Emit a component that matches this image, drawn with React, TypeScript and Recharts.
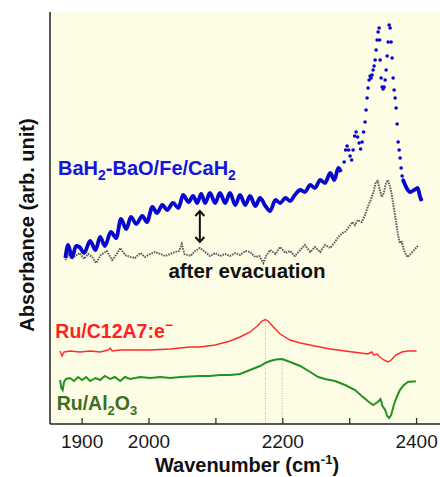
import { LineChart, Line, XAxis, YAxis, CartesianGrid, ReferenceLine, ReferenceDot } from "recharts"

const X_DOMAIN = [1852, 2435]
const X_TICKS = [1900, 2000, 2100, 2200, 2300, 2400]
const X_TICK_LABELS = [1900, 2000, 2200, 2400]
const Y_DOMAIN = [0, 412]

const BLUE = "#0707cf"
const GRAY = "#606060"
const RED = "#ff2a2a"
const GREEN = "#229322"

// BaH2-BaO/Fe/CaH2, wavenumber (cm-1) and absorbance (arb. unit)
const blueWn = [
  1875, 1879, 1885, 1891, 1896, 1903, 1912, 1920, 1927, 1934,
  1943, 1951, 1958, 1966, 1973, 1981, 1990, 1997, 2005, 2012,
  2020, 2027, 2036, 2044, 2051, 2059, 2066, 2072, 2078, 2084,
  2091, 2099, 2106, 2114, 2121, 2129, 2136, 2144, 2151, 2159,
  2166, 2174, 2181, 2189, 2196, 2204, 2211, 2218, 2226, 2233,
  2241, 2248, 2256, 2263, 2271, 2277, 2283, 2287,
  2291.7, 2293.9, 2296.1, 2298.4, 2300.6, 2302.9, 2305.1, 2307.4, 2309.6, 2311.8,
  2314.1, 2316.3, 2318.6, 2320.8, 2323.0, 2324.5, 2326.0, 2327.5, 2329.0, 2330.5,
  2332.0, 2333.5, 2335.0, 2336.5, 2338.0, 2339.5, 2341.0, 2342.5, 2344.0, 2344.8,
  2345.5, 2347.0, 2348.5, 2350.0, 2351.5, 2353.0, 2354.5, 2356.0, 2357.5, 2359.0,
  2360.4, 2361.9, 2363.4, 2364.9, 2366.4, 2367.9, 2369.4, 2370.9, 2372.4, 2373.9,
  2375.4, 2376.9, 2378.4, 2379.9,
  2385.1, 2390.3, 2396.3, 2401.5, 2405.3, 2407.8,
]
const blueAbs = [
  166, 179, 167, 178, 177, 171, 183, 174, 187, 178,
  192, 186, 205, 195, 207, 200, 208, 202, 217, 211,
  219, 214, 221, 216, 229, 222, 228, 221, 230, 221,
  231, 221, 231, 221, 231, 219, 229, 219, 228, 218,
  226, 218, 213, 224, 221, 226, 223, 229, 234, 232,
  239, 236, 244, 241, 251, 244, 256, 252,
  262, 274, 278, 274, 268, 264, 274, 288, 292, 287,
  281, 275, 282, 292, 302, 314, 326, 336, 344, 348,
  346, 349, 354, 358, 364, 374, 384, 392, 396, 384,
  364, 346, 337, 335, 337, 344, 354, 368, 382, 399,
  396, 382, 366, 346, 334, 326, 316, 300, 282, 274,
  266, 256, 248, 244,
  236, 232, 234, 236, 227, 223,
]

// same sample after evacuation
const grayWn = [
  1875, 1879, 1884, 1890, 1896, 1903, 1909, 1915, 1921, 1928,
  1937, 1945, 1952, 1957, 1964, 1972, 1979, 1987, 1994, 2002,
  2009, 2017, 2024, 2032, 2039, 2045, 2049, 2053, 2062, 2069,
  2076, 2084, 2091, 2099, 2106, 2114, 2121, 2129, 2136, 2144,
  2151, 2159, 2165, 2171, 2175, 2181, 2189, 2196, 2204, 2211,
  2218, 2226, 2233, 2241, 2248, 2256, 2263, 2271, 2278, 2283,
  2289, 2293, 2301, 2304, 2308, 2312, 2318, 2323, 2327, 2332,
  2336, 2339, 2342, 2345, 2348, 2351, 2354, 2357, 2360, 2363,
  2366, 2369, 2372, 2375, 2378, 2381, 2386, 2390, 2395, 2399,
  2402,
]
const grayAbs = [
  164, 170, 165, 168, 171, 165, 170, 167, 161, 169,
  173, 164, 170, 176, 169, 167, 166, 171, 167, 170,
  172, 170, 168, 170, 172, 173, 180, 170, 168, 173,
  176, 172, 168, 171, 168, 170, 168, 171, 169, 173,
  172, 167, 168, 161, 168, 174, 170, 177, 171, 173,
  168, 174, 179, 172, 177, 172, 179, 176, 182, 187,
  191, 192, 199, 202, 199, 204, 202, 209, 217, 225,
  233, 242, 243, 234, 227, 231, 240, 244, 238, 229,
  216, 204, 190, 181, 182, 174, 167, 169, 173, 176,
  178,
]

// Ru/C12A7:e-
const redWn = [
  1867, 1870, 1873, 1882, 1897, 1912, 1927, 1939, 1942, 1945,
  1957, 1972, 2002, 2032, 2061, 2076, 2099, 2121, 2136, 2151,
  2162, 2169, 2174, 2178, 2186, 2196, 2211, 2226, 2248, 2271,
  2293, 2316, 2327, 2333, 2336, 2341, 2345, 2351, 2357, 2362,
  2369, 2378, 2387, 2400,
]
const redAbs = [
  73, 68, 72, 73, 72, 73, 72, 74, 76, 73,
  74, 74, 74, 75, 77, 77, 79, 83, 87, 92,
  98, 103, 104.5, 103, 97, 90, 84, 81, 78, 75,
  73, 71, 70, 72, 69, 70, 67, 64, 62, 64,
  69, 72, 73, 73,
]

// Ru/Al2O3
const greenWn = [
  1867, 1869, 1871, 1873, 1876, 1882, 1888, 1894, 1900, 1906,
  1912, 1920, 1927, 1934, 1942, 1949, 1957, 1964, 1972, 1987,
  2002, 2017, 2032, 2047, 2061, 2076, 2091, 2106, 2121, 2136,
  2151, 2166, 2174, 2181, 2190, 2199, 2211, 2226, 2241, 2253,
  2263, 2278, 2293, 2308, 2318, 2327, 2335, 2342, 2346, 2349,
  2353, 2356, 2359, 2362, 2366, 2371, 2375, 2381, 2387, 2393,
  2399,
]
const greenAbs = [
  44, 36, 34, 42, 45, 46, 43, 47, 44, 47,
  43, 46, 44, 48, 45, 47, 43, 47, 45, 47,
  46, 47, 46, 47, 47.5, 48, 48, 49, 49, 50,
  54, 58, 61, 63, 64.5, 65, 62, 58, 52, 47,
  45, 43, 39, 34, 28, 23, 19, 22, 25, 18,
  14, 8, 6, 9, 19, 28, 34, 39, 42, 42.5,
  42.5,
]

// peak positions marked with dotted drop lines
const redPeak = { wn: 2174, abs: 104.5 }
const greenPeak = { wn: 2199, abs: 65 }

const rows = (wn: number[], abs: number[]) => wn.map((w, i) => ({ wn: w, abs: abs[i] }))

const blue = rows(blueWn, blueAbs)
const blueLow = blue.filter((d) => d.wn < 2290)
const bluePeak = blue.filter((d) => d.wn >= 2290 && d.wn <= 2380)
const blueTail = blue.filter((d) => d.wn >= 2379)
const gray = rows(grayWn, grayAbs)
const red = rows(redWn, redAbs)
const green = rows(greenWn, greenAbs)

const FONT = "'Liberation Sans', Arial, sans-serif"

const BlueName = ({ cx, cy }: any) => (
  <text x={cx} y={cy} fill="#1414dc" fontSize={20} fontWeight="bold" fontFamily={FONT}>
    BaH<tspan dy={5} fontSize={14}>2</tspan>
    <tspan dy={-5}>-BaO/Fe/CaH</tspan>
    <tspan dy={5} fontSize={14}>2</tspan>
  </text>
)

const GrayName = ({ cx, cy }: any) => (
  <text x={cx} y={cy} fill="#111" fontSize={20.5} fontWeight="bold" fontFamily={FONT}>
    after evacuation
  </text>
)

const RedName = ({ cx, cy }: any) => (
  <text x={cx} y={cy} fill="#ff1f1f" fontSize={19.5} fontWeight="bold" fontFamily={FONT}>
    Ru/C12A7:e<tspan dy={-8} fontSize={14}>−</tspan>
  </text>
)

const GreenName = ({ cx, cy }: any) => (
  <text x={cx} y={cy} fill="#3b6e1f" fontSize={19.5} fontWeight="bold" fontFamily={FONT}>
    Ru/Al<tspan dy={5} fontSize={13}>2</tspan>
    <tspan dy={-5}>O</tspan>
    <tspan dy={5} fontSize={13}>3</tspan>
  </text>
)

const DoubleArrow = ({ x1, y1, y2 }: any) => {
  const top = Math.min(y1, y2)
  const bot = Math.max(y1, y2)
  return (
    <g stroke="#111" strokeWidth={2} fill="none">
      <line x1={x1} y1={top + 1} x2={x1} y2={bot - 1} />
      <path d={`M${x1 - 4.5},${top + 6} L${x1},${top + 1} L${x1 + 4.5},${top + 6}`} />
      <path d={`M${x1 - 4.5},${bot - 6} L${x1},${bot - 1} L${x1 + 4.5},${bot - 6}`} />
    </g>
  )
}

const XTitle = () => (
  <text x={247} y={472} textAnchor="middle" fontSize={20} fontWeight="bold" fill="#111" fontFamily={FONT}>
    Wavenumber (cm<tspan dy={-8} fontSize={13}>-1</tspan>
    <tspan dy={8}>)</tspan>
  </text>
)

const YTitle = () => (
  <text
    x={34}
    y={225}
    transform="rotate(-90 34 225)"
    textAnchor="middle"
    fontSize={20}
    fontWeight="bold"
    fill="#111"
    fontFamily={FONT}
  >
    Absorbance (arb. unit)
  </text>
)

export default function App() {
  return (
    <div
      style={{
        position: "absolute",
        left: 0,
        top: 0,
        width: 440,
        height: 477,
        overflow: "hidden",
        background: "#fff",
        fontFamily: FONT,
      }}
    >
      <LineChart width={440} height={477} margin={{ top: 12, right: 0, bottom: 0, left: 0 }}>
        <CartesianGrid horizontal={false} vertical={false} fill="#fdfde6" />
        <XAxis
          dataKey="wn"
          type="number"
          domain={X_DOMAIN}
          ticks={X_TICKS}
          interval={0}
          allowDataOverflow
          height={53}
          tickSize={-6}
          tickMargin={16.5}
          tickFormatter={(v: number) => (X_TICK_LABELS.includes(v) ? String(v) : "")}
          tick={{ fontSize: 19, fill: "#1a1a1a" }}
          axisLine={{ stroke: "#222", strokeWidth: 1.5 }}
          tickLine={{ stroke: "#333", strokeWidth: 1.3 }}
          label={<XTitle />}
        />
        <XAxis
          xAxisId="top"
          orientation="top"
          dataKey="wn"
          type="number"
          domain={X_DOMAIN}
          ticks={X_TICKS}
          interval={0}
          allowDataOverflow
          height={0}
          tickSize={-6}
          tick={false}
          axisLine={{ stroke: "#222", strokeWidth: 1.5 }}
          tickLine={{ stroke: "#333", strokeWidth: 1.3 }}
        />
        <YAxis
          type="number"
          domain={Y_DOMAIN}
          allowDataOverflow
          width={50}
          tick={false}
          tickLine={false}
          axisLine={{ stroke: "#222", strokeWidth: 1.5 }}
          label={<YTitle />}
        />

        <ReferenceLine
          segment={[{ x: redPeak.wn, y: 0 }, { x: redPeak.wn, y: redPeak.abs }]}
          stroke="#f29a9a"
          strokeWidth={1}
          strokeDasharray="1 1.5"
        />
        <ReferenceLine
          segment={[{ x: greenPeak.wn, y: 0 }, { x: greenPeak.wn, y: greenPeak.abs }]}
          stroke="#94c894"
          strokeWidth={1}
          strokeDasharray="1 1.5"
        />

        <Line data={red} dataKey="abs" type="linear" stroke={RED} strokeWidth={1.4} dot={false} activeDot={false} isAnimationActive={false} />
        <Line data={green} dataKey="abs" type="linear" stroke={GREEN} strokeWidth={2} dot={false} activeDot={false} isAnimationActive={false} />
        <Line
          data={gray}
          dataKey="abs"
          type="linear"
          stroke={GRAY}
          strokeWidth={2}
          strokeDasharray="1.6 1"
          dot={false}
          activeDot={false}
          isAnimationActive={false}
        />
        <Line data={blueLow} dataKey="abs" type="monotone" stroke={BLUE} strokeWidth={3.8} dot={false} activeDot={false} isAnimationActive={false} />
        <Line
          data={bluePeak}
          dataKey="abs"
          stroke="none"
          strokeWidth={0}
          dot={{ r: 1.8, fill: BLUE, stroke: "none" }}
          activeDot={false}
          isAnimationActive={false}
        />
        <Line data={blueTail} dataKey="abs" type="monotone" stroke={BLUE} strokeWidth={3.8} dot={false} activeDot={false} isAnimationActive={false} />

        <ReferenceLine segment={[{ x: 2076, y: 181 }, { x: 2076, y: 214 }]} shape={DoubleArrow} />

        <ReferenceDot x={1864} y={249} r={0} shape={BlueName} />
        <ReferenceDot x={2029} y={146} r={0} shape={GrayName} />
        <ReferenceDot x={1860} y={86} r={0} shape={RedName} />
        <ReferenceDot x={1862} y={14} r={0} shape={GreenName} />
      </LineChart>
    </div>
  )
}
